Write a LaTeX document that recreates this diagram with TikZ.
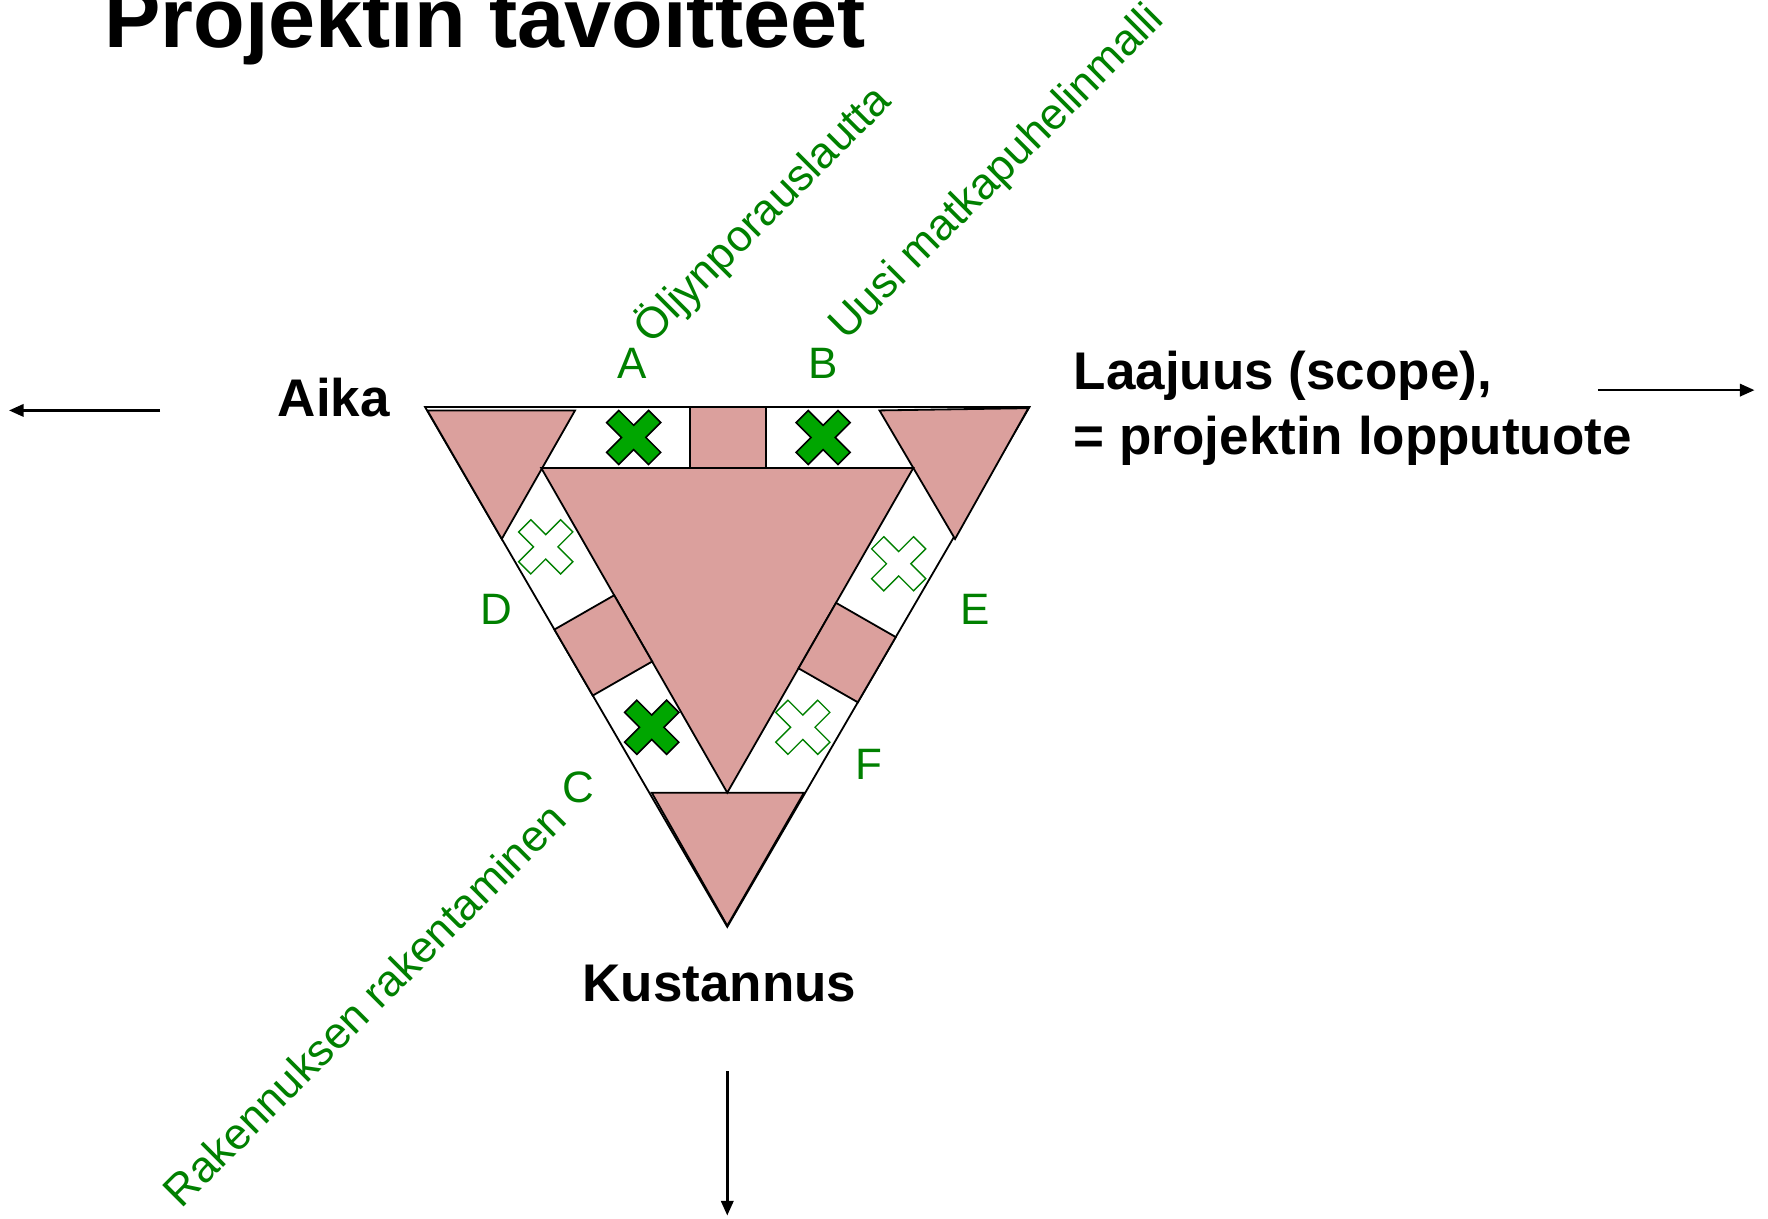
\documentclass[tikz,border=0pt]{standalone}
\usepackage{fontspec}
\setmainfont{Liberation Sans}
\usetikzlibrary{calc,arrows.meta}
\definecolor{roosa}{HTML}{DBA09D}
\definecolor{vihrea}{HTML}{008000}
\definecolor{ristivari}{HTML}{00A600}

\begin{document}
\begin{tikzpicture}[x=0.5pt,y=-0.5pt,
			osa/.style={draw, fill=roosa, line width=0.8pt},
			lab/.style={text=vihrea, font=\fontsize{19.5}{23}\selectfont, inner sep=0pt},
			iso/.style={font=\fontsize{23.5}{28.5}\selectfont\bfseries, inner sep=0pt},
			taysi/.style={draw, fill=ristivari, line width=0.7pt},
			tyhja/.style={draw=vihrea, fill=white, line width=0.6pt},
			nuoli/.style={-{Triangle[length=6.5pt,width=5.5pt]}, line width=1.1pt}
				]
			\useasboundingbox (0,0) rectangle (1568,1081);
			\def\h{24}
			\coordinate (o1) at (377,361);
			\coordinate (o2) at (913,361);
			\coordinate (o3) at (645,822);
			\coordinate (i1) at (480,415);
			\coordinate (i2) at (810,415);
			\coordinate (i3) at (645,703);

			\draw[line width=0.8pt, fill=white] (o1) -- (o2) -- (o3) -- cycle;

			%corners
			\draw[osa] (379,364) -- (510,364) -- (445,478) -- cycle;
			\draw[osa] (780,364) -- (912,362) -- (847,478) -- cycle;
			\draw[osa] (578,703) -- (713,703) -- (645,821) -- cycle;
			\draw[osa] (i1) -- (i2) -- (i3) -- cycle;

			%band parts
			\draw[osa] (612,361) rectangle (679,415);
			\coordinate (l1) at ($(o1)!0.428!(o3)$);
			\coordinate (l2) at ($(i1)!(l1)!(i3)$);
			\coordinate (l3) at ($(o1)!0.555!(o3)$);
			\coordinate (l4) at ($(i1)!(l3)!(i3)$);
			\draw[osa] (l1) -- (l2) -- (l4) -- (l3) -- cycle;
			\coordinate (r1) at ($(o2)!0.4425!(o3)$);
			\coordinate (r2) at ($(i2)!(r1)!(i3)$);
			\coordinate (r3) at ($(o2)!0.568!(o3)$);
			\coordinate (r4) at ($(i2)!(r3)!(i3)$);
			\draw[osa] (r1) -- (r2) -- (r4) -- (r3) -- cycle;

			%crosses
			\coordinate (xa) at (562,388);
			\coordinate (xb) at (730,388);
			\coordinate (xc) at (578,645);
			\coordinate (xd) at (484,485);
			\coordinate (xe) at (797,500);
			\coordinate (xf) at (712,645);
			\foreach \c/\s in {xa/taysi,xb/taysi,xc/taysi,xd/tyhja,xe/tyhja,xf/tyhja} {
				\draw[\s,shift={(\c)}] (0,0.45*\h) -- (0.55*\h,\h) -- (\h,0.55*\h) -- (0.45*\h,0)
					-- (\h,-0.55*\h) -- (0.55*\h,-\h) -- (0,-0.45*\h) -- (-0.55*\h,-\h)
					-- (-\h,-0.55*\h) -- (-0.45*\h,0) -- (-\h,0.55*\h) -- (-0.55*\h,\h) -- cycle;
			}

			\node[lab] (la) at (561,322) {A};
			\node[lab] (lb) at (730,322) {B};
			\node[lab] (lc) at (513,698) {C};
			\node[lab] (ld) at (440,540) {D};
			\node[lab] (le) at (865,540) {E};
			\node[lab] (lf) at (771,678) {F};
			\node[lab,rotate=45] (oljy) at (676,190) {Öljynporauslautta};
			\node[lab,rotate=45] (uusi) at (885,154) {Uusi matkapuhelinmalli};
			\node[lab,rotate=45] (rak) at (323,891) {Rakennuksen rakentaminen};

			\node[font=\fontsize{37.5}{45}\selectfont\bfseries, anchor=base west, inner sep=0pt] (otsikko) at (92,42) {Projektin tavoitteet};
			\node[iso] (aika) at (296,353) {Aika};
			\node[iso, align=left, anchor=west] (laaj) at (952,362) {Laajuus (scope),\\= projektin lopputuote};
			\node[iso] (kust) at (638,872) {Kustannus};

			\coordinate (vas1) at (142,364);
			\coordinate (vas2) at (8,364);
			\coordinate (oik1) at (1417,346);
			\coordinate (oik2) at (1556,346);
			\coordinate (alas1) at (645,950);
			\coordinate (alas2) at (645,1078);
			\draw[nuoli] (vas1) -- (vas2);
			\draw[nuoli] (oik1) -- (oik2);
			\draw[nuoli] (alas1) -- (alas2);
	\end{tikzpicture}
\end{document}
